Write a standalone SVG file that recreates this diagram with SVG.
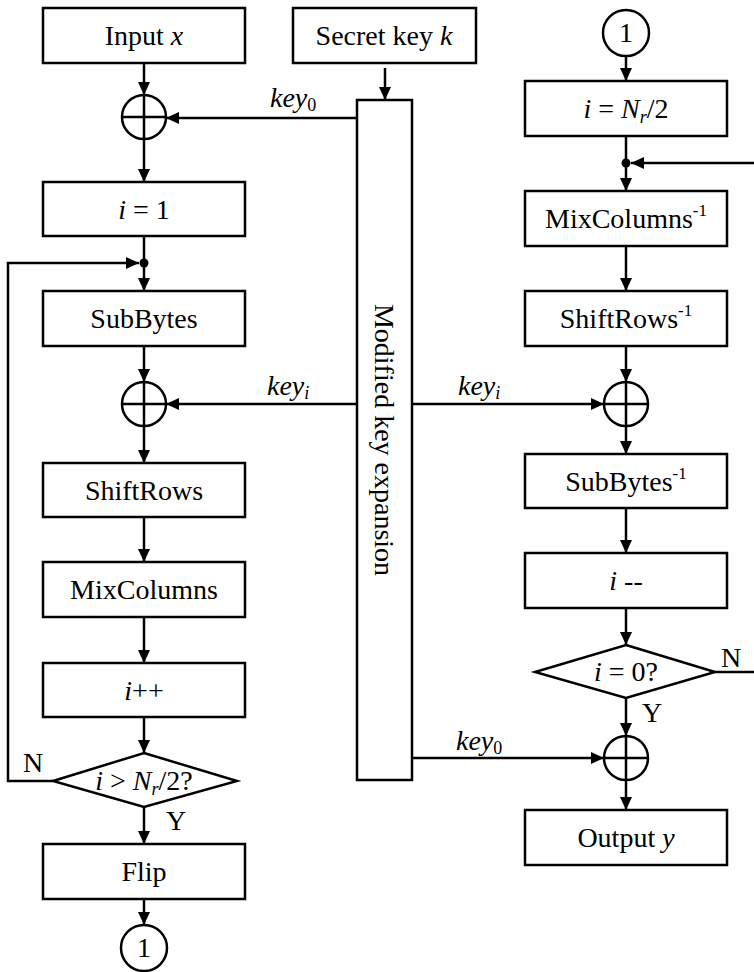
<svg xmlns="http://www.w3.org/2000/svg" width="754" height="972" viewBox="0 0 754 972" font-family="'Liberation Serif','Times New Roman',serif">
<defs>
<marker id="ah" markerUnits="userSpaceOnUse" markerWidth="14" markerHeight="12" refX="13" refY="6" orient="auto">
<path d="M0,0 L13,6 L0,12 Z" fill="#000"/>
</marker>
<style>
.box{fill:#fff;stroke:#000;stroke-width:2.5}
.ln{fill:none;stroke:#000;stroke-width:2.5}
.ar{fill:none;stroke:#000;stroke-width:2.5;marker-end:url(#ah)}
text, tspan{font-family:"Liberation Serif","Times New Roman",serif !important}
text{font-size:28px;fill:#000}
.t{text-anchor:middle}
.it{font-style:italic}
.sub{font-size:18px;font-style:normal}
.subi{font-size:18px;font-style:italic}
.sup{font-size:17px}
</style>
</defs>
<rect width="754" height="972" fill="#fff"/>

<g id="connectors">
<line class="ar" x1="144" y1="63" x2="144" y2="95"/>
<line class="ar" x1="144" y1="139" x2="144" y2="182"/>
<line class="ln" x1="144" y1="236" x2="144" y2="263"/>
<line class="ar" x1="144" y1="263" x2="144" y2="291"/>
<polyline class="ar" points="53,781 8,781 8,263 139,263"/>
<circle cx="144" cy="263" r="4.5" fill="#000"/>
<line class="ar" x1="144" y1="346" x2="144" y2="382"/>
<line class="ar" x1="144" y1="426" x2="144" y2="463"/>
<line class="ar" x1="144" y1="517" x2="144" y2="562"/>
<line class="ar" x1="144" y1="617" x2="144" y2="663"/>
<line class="ar" x1="144" y1="717" x2="144" y2="753"/>
<line class="ar" x1="144" y1="807" x2="144" y2="844"/>
<line class="ar" x1="144" y1="899" x2="144" y2="925"/>
<line class="ar" x1="385" y1="68" x2="385" y2="100"/>
<line class="ar" x1="357" y1="118" x2="166" y2="118"/>
<line class="ar" x1="357" y1="404" x2="166" y2="404"/>
<line class="ar" x1="412" y1="404" x2="604" y2="404"/>
<line class="ar" x1="412" y1="758" x2="604" y2="758"/>
<line class="ar" x1="626" y1="56" x2="626" y2="81"/>
<line class="ln" x1="626" y1="136" x2="626" y2="163"/>
<line class="ar" x1="626" y1="163" x2="626" y2="191"/>
<line class="ar" x1="754" y1="163" x2="631" y2="163"/>
<circle cx="626" cy="163" r="4.5" fill="#000"/>
<line class="ar" x1="626" y1="246" x2="626" y2="291"/>
<line class="ar" x1="626" y1="346" x2="626" y2="382"/>
<line class="ar" x1="626" y1="426" x2="626" y2="454"/>
<line class="ar" x1="626" y1="508" x2="626" y2="553"/>
<line class="ar" x1="626" y1="608" x2="626" y2="645"/>
<line class="ar" x1="626" y1="698" x2="626" y2="736"/>
<line class="ln" x1="715" y1="672" x2="754" y2="672"/>
<line class="ar" x1="626" y1="780" x2="626" y2="810"/>
<text x="270" y="107" class="it">key<tspan class="sub" dy="4">0</tspan></text>
<text x="267" y="395" class="it">key<tspan class="subi" dy="4">i</tspan></text>
<text x="458" y="395" class="it">key<tspan class="subi" dy="4">i</tspan></text>
<text x="456" y="750" class="it">key<tspan class="sub" dy="4">0</tspan></text>
<text x="23" y="772">N</text>
<text x="166" y="830">Y</text>
<text x="721" y="667">N</text>
<text x="642" y="722">Y</text>
</g>

<g id="input"><rect class="box" x="43" y="8" width="202" height="55"/><text class="t" x="144" y="45" style="font-family:'Liberation Serif',serif">Input <tspan class="it">x</tspan></text></g>
<g id="xor1"><circle class="box" cx="144" cy="117" r="22"/><path class="ln" d="M122,117 H166 M144,95 V139"/></g>
<g id="init"><rect class="box" x="43" y="182" width="202" height="54"/><text class="t" x="144" y="219" style="font-family:'Liberation Serif',serif"><tspan class="it">i</tspan> = 1</text></g>
<g id="subbytes"><rect class="box" x="43" y="291" width="202" height="55"/><text class="t" x="144" y="328" style="font-family:'Liberation Serif',serif">SubBytes</text></g>
<g id="xor2"><circle class="box" cx="144" cy="404" r="22"/><path class="ln" d="M122,404 H166 M144,382 V426"/></g>
<g id="shiftrows"><rect class="box" x="43" y="463" width="202" height="54"/><text class="t" x="144" y="500" style="font-family:'Liberation Serif',serif">ShiftRows</text></g>
<g id="mixcolumns"><rect class="box" x="43" y="562" width="202" height="55"/><text class="t" x="144" y="599" style="font-family:'Liberation Serif',serif">MixColumns</text></g>
<g id="inc"><rect class="box" x="43" y="663" width="202" height="54"/><text class="t" x="144" y="700" style="font-family:'Liberation Serif',serif"><tspan class="it">i</tspan>++</text></g>
<g id="cond1"><polygon class="box" points="144,753 237,781 144,807 53,781"/><text class="t" x="144" y="790" style="font-family:'Liberation Serif',serif"><tspan class="it">i</tspan> &gt; <tspan class="it">N</tspan><tspan class="it" font-size="18" dy="5">r</tspan><tspan dy="-5">/2?</tspan></text></g>
<g id="flip"><rect class="box" x="43" y="844" width="202" height="55"/><text class="t" x="144" y="881" style="font-family:'Liberation Serif',serif">Flip</text></g>
<g id="conn1a"><circle class="box" cx="144" cy="948" r="23"/><text class="t" x="144" y="957" font-size="26" style="font-family:'Liberation Serif',serif">1</text></g>

<g id="secretkey"><rect class="box" x="293" y="8" width="183" height="55"/><text class="t" x="384" y="45" style="font-family:'Liberation Serif',serif">Secret key <tspan class="it">k</tspan></text></g>
<g id="keyexp"><rect class="box" x="357" y="100" width="55" height="680"/><text class="t" transform="translate(375,440) rotate(90)" style="font-family:'Liberation Serif',serif">Modified key expansion</text></g>

<g id="conn1b"><circle class="box" cx="626" cy="33" r="23"/><text class="t" x="626" y="42" font-size="26" style="font-family:'Liberation Serif',serif">1</text></g>
<g id="init2"><rect class="box" x="525" y="81" width="202" height="55"/><text class="t" x="626" y="118" style="font-family:'Liberation Serif',serif"><tspan class="it">i</tspan> = <tspan class="it">N</tspan><tspan class="it" font-size="18" dy="5">r</tspan><tspan dy="-5">/2</tspan></text></g>
<g id="invmix"><rect class="box" x="525" y="191" width="202" height="55"/><text class="t" x="626" y="228" style="font-family:'Liberation Serif',serif">MixColumns<tspan class="sup" dy="-12">-1</tspan></text></g>
<g id="invshift"><rect class="box" x="525" y="291" width="202" height="55"/><text class="t" x="626" y="328" style="font-family:'Liberation Serif',serif">ShiftRows<tspan class="sup" dy="-12">-1</tspan></text></g>
<g id="xor3"><circle class="box" cx="626" cy="404" r="22"/><path class="ln" d="M604,404 H648 M626,382 V426"/></g>
<g id="invsub"><rect class="box" x="525" y="454" width="202" height="54"/><text class="t" x="626" y="491" style="font-family:'Liberation Serif',serif">SubBytes<tspan class="sup" dy="-12">-1</tspan></text></g>
<g id="dec"><rect class="box" x="525" y="553" width="202" height="55"/><text class="t" x="626" y="590" style="font-family:'Liberation Serif',serif"><tspan class="it">i</tspan> --</text></g>
<g id="cond2"><polygon class="box" points="626,645 715,672 626,698 535,672"/><text class="t" x="626" y="681" style="font-family:'Liberation Serif',serif"><tspan class="it">i</tspan> = 0?</text></g>
<g id="xor4"><circle class="box" cx="626" cy="758" r="22"/><path class="ln" d="M604,758 H648 M626,736 V780"/></g>
<g id="output"><rect class="box" x="525" y="810" width="202" height="55"/><text class="t" x="626" y="847" style="font-family:'Liberation Serif',serif">Output <tspan class="it">y</tspan></text></g>
</svg>
